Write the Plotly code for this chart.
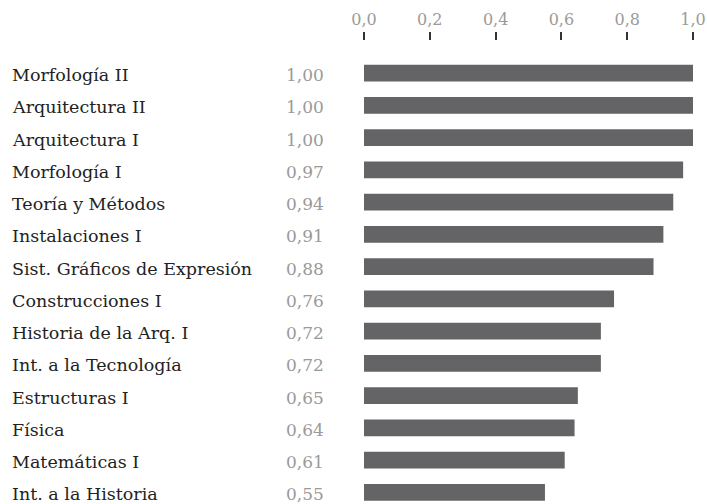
import plotly.graph_objects as go

# Data
subjects = [
    "Morfología II", "Arquitectura II", "Arquitectura I", "Morfología I",
    "Teoría y Métodos", "Instalaciones I", "Sist. Gráficos de Expresión",
    "Construcciones I", "Historia de la Arq. I", "Int. a la Tecnología",
    "Estructuras I", "Física", "Matemáticas I", "Int. a la Historia",
]
scores = [1.00, 1.00, 1.00, 0.97, 0.94, 0.91, 0.88, 0.76, 0.72, 0.72,
          0.65, 0.64, 0.61, 0.55]
x_ticks = [0.0, 0.2, 0.4, 0.6, 0.8, 1.0]
x_tick_text = ["0,0", "0,2", "0,4", "0,6", "0,8", "1,0"]

FONT = "DejaVu Serif"
BAR_COLOR = "#646466"
TEXT_DARK = "#222222"
TEXT_GRAY = "#9a9a9a"

W, H = 707, 504
L, R, T, B = 364, 14, 40, 0
PLOT_TOP = 57  # pixel where the first row's band starts

fig = go.Figure(go.Bar(
    x=scores,
    y=subjects,
    orientation="h",
    marker=dict(color=BAR_COLOR, line=dict(width=0)),
    width=0.52,
    hoverinfo="skip",
))

plot_w = W - L - R
for name, val in zip(subjects, scores):
    # subject name, left aligned near the image edge
    fig.add_annotation(
        x=(10 - L) / plot_w, xref="paper", xanchor="left",
        y=name, yref="y", yanchor="middle", yshift=-2,
        text=name, showarrow=False,
        font=dict(family=FONT, size=17.5, color=TEXT_DARK),
    )
    # value, right aligned before the bars
    fig.add_annotation(
        x=(326 - L) / plot_w, xref="paper", xanchor="right",
        y=name, yref="y", yanchor="middle", yshift=-2,
        text=f"{val:.2f}".replace(".", ","), showarrow=False,
        font=dict(family=FONT, size=17, color=TEXT_GRAY),
    )

n_visible = (H - (PLOT_TOP + 16.1)) / 32.25
fig.update_layout(
    width=W, height=H,
    margin=dict(l=L, r=R, t=T, b=B, autoexpand=False),
    paper_bgcolor="white", plot_bgcolor="white",
    showlegend=False,
    font=dict(family=FONT, size=16, color=TEXT_GRAY),
    xaxis=dict(
        range=[0, 1], side="top", anchor="free", position=1,
        tickvals=x_ticks, ticktext=x_tick_text,
        ticks="outside", ticklen=8, tickwidth=1.5, tickcolor="#333333",
        ticklabelstandoff=1,
        tickfont=dict(family=FONT, size=16, color=TEXT_GRAY),
        showgrid=False, zeroline=False, showline=False,
    ),
    yaxis=dict(
        domain=[0, (H - PLOT_TOP) / (H - T)],
        range=[n_visible, -0.5],
        showticklabels=False, showgrid=False, zeroline=False, showline=False,
        ticks="",
    ),
)

fig.write_html(
    "out.html",
    config={"displayModeBar": False},
    post_script="document.body.style.margin='0';",
)
